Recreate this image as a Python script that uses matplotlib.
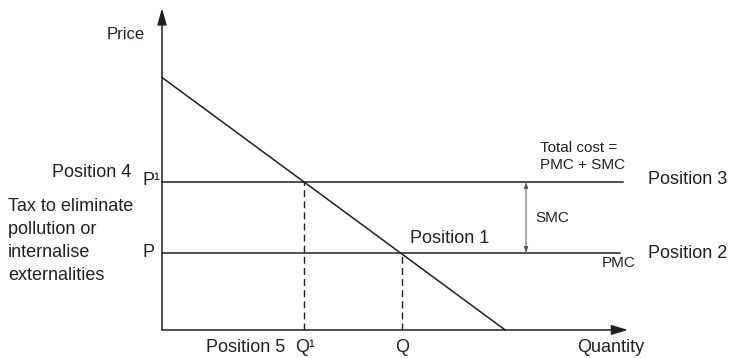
import matplotlib.pyplot as plt

plt.rcParams['font.family'] = ['Liberation Sans', 'DejaVu Sans']

# economic values (quantity units, price units)
demand_q = [0, 14.3]
demand_p = [32.8, 0]
p_low = 10.0      # PMC
p_high = 19.2     # PMC + SMC
q_low = 5.9       # Q1
q_high = 10.0     # Q
line_end = [19.08, 19.21]   # end of PMC line, end of total cost line
smc_q = 15.17
axis_q_max = 19.42
axis_p_max = 41.8

ink = '#231f20'

fig = plt.figure(figsize=(7.31, 3.58), dpi=100)
ax = fig.add_axes([0, 0, 1, 1])
ax.set_xlim(-6.75, 23.71)
ax.set_ylim(-3.64, 42.86)
ax.axis('off')

# axes with arrow heads
ax.annotate('', xy=(0, axis_p_max), xytext=(0, 0),
            arrowprops=dict(arrowstyle='-|>,head_length=1.0,head_width=0.28',
                            color=ink, lw=1.1, shrinkA=0, shrinkB=0))
ax.annotate('', xy=(axis_q_max, 0), xytext=(0, 0),
            arrowprops=dict(arrowstyle='-|>,head_length=1.0,head_width=0.3',
                            color=ink, lw=1.1, shrinkA=0, shrinkB=0))

# demand curve
ax.plot(demand_q, demand_p, color=ink, lw=1.1)

# PMC and total cost lines
ax.plot([0, line_end[0]], [p_low, p_low], color=ink, lw=1.1)
ax.plot([0, line_end[1]], [p_high, p_high], color=ink, lw=1.1)

# dashed drops
ax.plot([q_low, q_low], [0, p_high], color=ink, lw=1.0, dashes=(5, 3))
ax.plot([q_high, q_high], [0, p_low], color=ink, lw=1.0, dashes=(5, 3))

# SMC double arrow
ax.annotate('', xy=(smc_q, p_high), xytext=(smc_q, p_low),
            arrowprops=dict(arrowstyle='<|-|>,head_length=0.35,head_width=0.12',
                            color='#555555', lw=0.7, shrinkA=0, shrinkB=0))

fs = 13
fs_small = 11

ax.text(-0.71, 38.4, 'Price', ha='right', va='center', fontsize=12, color=ink)
ax.text(-1.29, 20.5, 'Position 4', ha='right', va='center', fontsize=fs, color=ink)
ax.text(-0.83, p_high + 0.2, 'P¹', ha='left', va='center', fontsize=fs, color=ink)
ax.text(-0.83, p_low, 'P', ha='left', va='center', fontsize=fs, color=ink)
ax.text(-6.42, 11.56, 'Tax to eliminate\npollution or\ninternalise\nexternalities',
        ha='left', va='center', fontsize=fs, color=ink, linespacing=1.45)

ax.text(5.125, -2.34, 'Position 5', ha='right', va='center', fontsize=fs, color=ink)
ax.text(5.54, -2.34, 'Q¹', ha='left', va='center', fontsize=fs, color=ink)
ax.text(q_high, -2.34, 'Q', ha='center', va='center', fontsize=fs, color=ink)
ax.text(17.29, -2.34, 'Quantity', ha='left', va='center', fontsize=fs, color=ink)

ax.text(15.75, 22.5, 'Total cost =\nPMC + SMC', ha='left', va='center',
        fontsize=fs_small, color=ink, linespacing=1.25)
ax.text(20.25, 19.5, 'Position 3', ha='left', va='center', fontsize=fs, color=ink)
ax.text(15.54, 14.5, 'SMC', ha='left', va='center', fontsize=fs_small, color=ink)
ax.text(10.33, 11.9, 'Position 1', ha='left', va='center', fontsize=fs, color=ink)
ax.text(20.25, 9.87, 'Position 2', ha='left', va='center', fontsize=fs, color=ink)
ax.text(18.33, 8.7, 'PMC', ha='left', va='center', fontsize=fs_small, color=ink)

fig.savefig('out.png', dpi=100)
